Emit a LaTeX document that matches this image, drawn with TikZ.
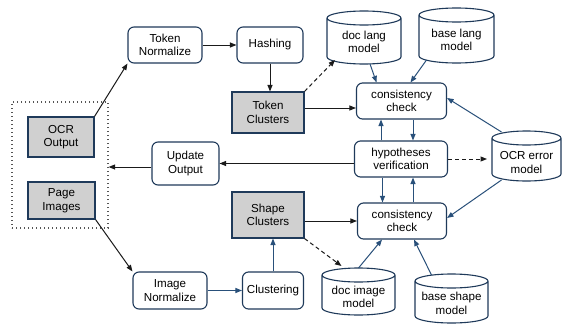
\documentclass[tikz,border=0pt]{standalone}
\usepackage{fontspec}
\setmainfont{Liberation Sans}
\usetikzlibrary{arrows.meta,calc}
\definecolor{bd}{HTML}{1F3A5A}
\definecolor{ab}{HTML}{29507A}
\definecolor{ak}{HTML}{1A1A1A}
\definecolor{gf}{HTML}{D0D0D0}
\definecolor{dotc}{HTML}{555555}
\newcommand\mycyl[1]{%
  \draw[draw=bd, line width=1.1pt] let \p1=(#1.north west), \p2=(#1.south east), \p3=(#1.north) in
    (\x1,\y1-7pt) -- (\x1,\y2+7pt)
    arc[start angle=180, end angle=360, x radius={(\x2-\x1)/2}, y radius=7pt]
    -- (\x2,\y1-7pt)
    (\x3,\y1-7pt) ellipse[x radius={(\x2-\x1)/2}, y radius=7pt];}
\tikzset{
  base/.style={font=\fontsize{11.6}{13.5}\selectfont, align=center, inner sep=0pt, line width=1.1pt},
  rbox/.style={base, draw=bd, rounded corners=6pt, fill=white},
  gbox/.style={base, draw=bd, fill=gf},
  cylnode/.style={inner sep=0pt, outer sep=0pt, draw=none},
  cyltext/.style={base},
  arrk/.style={draw=ak, line width=1pt, -{Triangle[length=6.5pt,width=5pt]}},
  arrb/.style={draw=ab, line width=1pt, -{Triangle[length=6.5pt,width=5pt]}},
  dashk/.style={arrk, dash pattern=on 4pt off 3pt},
}
\begin{document}
\begin{tikzpicture}[x=1pt,y=-1pt]
\fill[white] (0,0) rectangle (562,324);
\useasboundingbox (0,0) rectangle (562,324);

% source box
\node[draw=dotc, line width=1.2pt, dash pattern=on 1.2pt off 2.8pt, minimum width=96pt, minimum height=126pt, inner sep=0pt] (src) at (60,165) {};
\node[gbox, minimum width=66pt, minimum height=40pt] (ocr) at (61,137) {OCR\\Output};
\node[gbox, minimum width=67pt, minimum height=37pt] (pi) at (61.5,200.5) {Page\\Images};

% token branch
\node[rbox, minimum width=74pt, minimum height=36pt] (tn) at (165,45) {Token\\Normalize};
\node[rbox, minimum width=66pt, minimum height=36pt] (hash) at (270,45) {Hashing};
\node[gbox, minimum width=72pt, minimum height=41pt] (tc) at (268,112.5) {Token\\Clusters};

% image branch
\node[rbox, minimum width=74pt, minimum height=37pt] (in) at (170,290.5) {Image\\Normalize};
\node[rbox, minimum width=61pt, minimum height=37pt] (cl) at (273,290.5) {Clustering};
\node[gbox, minimum width=72pt, minimum height=46pt] (sc) at (268,215) {Shape\\Clusters};

% update
\node[rbox, minimum width=67pt, minimum height=43pt] (uo) at (185.5,163.5) {Update\\Output};

% checks
\node[rbox, minimum width=90pt, minimum height=36pt] (cc1) at (401.5,101) {consistency\\check};
\node[rbox, minimum width=93pt, minimum height=36pt] (hyp) at (401,159) {hypotheses\\verification};
\node[rbox, minimum width=89pt, minimum height=36pt] (cc2) at (402,221) {consistency\\check};

% cylinders
\node[cylnode, minimum width=74pt, minimum height=53pt] (dlm) at (364,37.5) {};
\node[cylnode, minimum width=75pt, minimum height=55pt] (blm) at (456.5,35.5) {};
\node[cylnode, minimum width=69pt, minimum height=50pt] (oem) at (526.5,156) {};
\node[cylnode, minimum width=73pt, minimum height=47pt] (dim) at (358.5,291.5) {};
\node[cylnode, minimum width=73pt, minimum height=49pt] (bsm) at (451.5,298.5) {};
\mycyl{dlm}\mycyl{blm}\mycyl{oem}\mycyl{dim}\mycyl{bsm}
\node[cyltext] (dlmt) at (364,42) {doc lang\\model};
\node[cyltext] (blmt) at (456.5,40) {base lang\\model};
\node[cyltext] (oemt) at (526.5,162.5) {OCR error\\model};
\node[cyltext] (dimt) at (358.5,297) {doc image\\model};
\node[cyltext] (bsmt) at (451.5,303.5) {base shape\\model};

% black arrows
\draw[arrk] (ocr.north east) -- (tn.south west);
\draw[arrk] (pi.south east) -- (in.north west);
\draw[arrk] (tn.east) -- (hash.west);
\draw[arrk] (hash.south) -- (hash.south |- tc.north);
\draw[arrk] ([yshift=4.5pt]tc.east) -- ([yshift=4.5pt]tc.east -| cc1.west);
\draw[arrk] (sc.east |- cc2.west) -- (cc2.west);
\draw[arrk] (hyp.west |- uo.east) -- (uo.east);
\draw[arrk] ([yshift=-3.5pt]uo.west) -- ([yshift=-3.5pt]uo.west -| src.east);

% dashed arrows
\draw[dashk] (tc.north east) -- ([xshift=-29pt,yshift=4pt]dlm.south);
\draw[dashk, shorten >=5pt] (hyp.east) -- (hyp.east -| oem.west);
\draw[dashk] (sc.south east) -- ([xshift=-17pt,yshift=2pt]dim.north);

% blue arrows
\draw[arrb] ([xshift=6pt]dlm.south) -- ([xshift=-25pt]cc1.north);
\draw[arrb] ([xshift=-30pt,yshift=3pt]blm.south) -- ([xshift=9pt]cc1.north);
\draw[arrb] ([xshift=-25pt,yshift=-1pt]oem.north) -- ([yshift=3pt]cc1.east);
\draw[arrb] ([xshift=-25pt,yshift=1pt]oem.south) -- ([yshift=3pt]cc2.east);
\draw[arrb] ([xshift=11.5pt]cc1.south) -- ([xshift=11.5pt]cc1.south |- hyp.north);
\draw[arrb] ([xshift=-20.5pt]cc1.south |- hyp.north) -- ([xshift=-20.5pt]cc1.south);
\draw[arrb] ([xshift=-19.5pt]cc2.north |- hyp.south) -- ([xshift=-19.5pt]cc2.north);
\draw[arrb] ([xshift=11pt]cc2.north) -- ([xshift=11pt]cc2.north |- hyp.south);
\draw[arrb] (dim.north) -- ([xshift=-20pt]cc2.south);
\draw[arrb] ([xshift=-20pt,yshift=-1pt]bsm.north) -- ([xshift=12pt]cc2.south);
\draw[arrb] (in.east) -- (cl.west);
\draw[arrb] (cl.north) -- (cl.north |- sc.south);
\end{tikzpicture}
\end{document}
